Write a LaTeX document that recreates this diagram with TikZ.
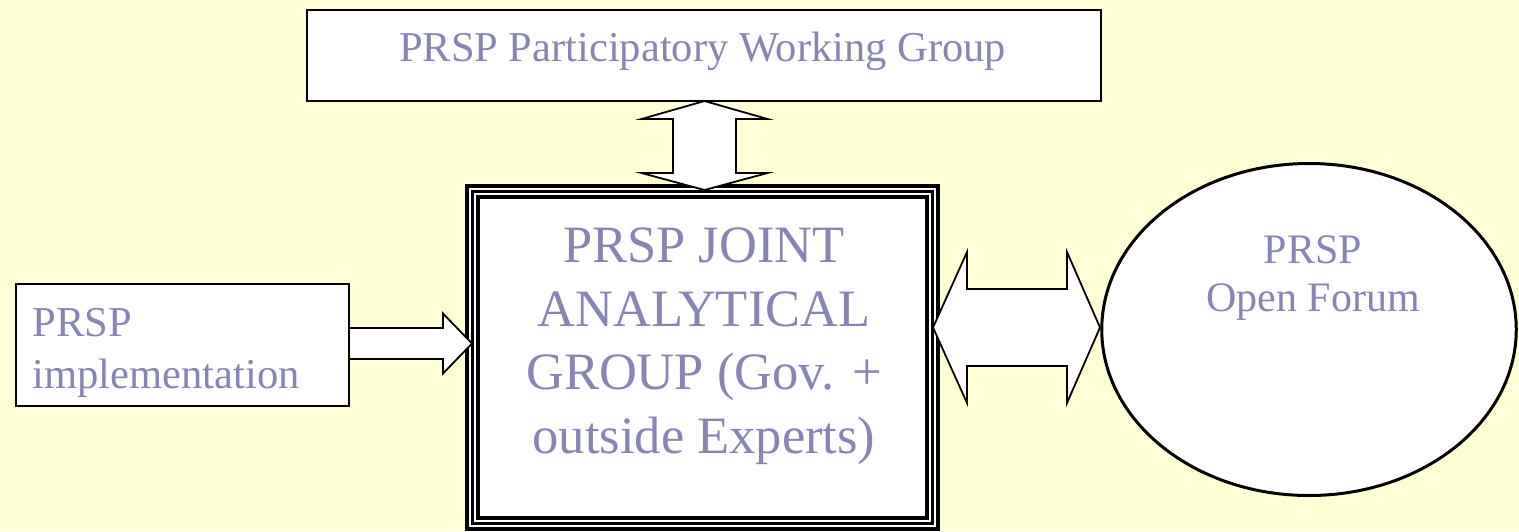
\documentclass[tikz,border=0pt]{standalone}
\usepackage{fontspec}
\setmainfont{Liberation Serif}
\usetikzlibrary{calc}
\definecolor{bgyellow}{RGB}{255,255,214}
\definecolor{txtblue}{RGB}{134,134,180}
\tikzset{
  boxnode/.style={draw=black, fill=white, line width=1pt, inner sep=0pt},
  smalltxt/.style={text=txtblue, inner sep=0pt, font=\fontsize{21.3}{26}\selectfont},
  bigtxt/.style={text=txtblue, inner sep=0pt, align=center, font=\fontsize{26.25}{31.75}\selectfont},
  blockarrow/.style={draw=black, fill=white, line width=0.9pt, line join=miter},
}
\begin{document}
\begin{tikzpicture}[x=0.5pt,y=-0.5pt]
  \useasboundingbox (0,0) rectangle (1519,531);
  \fill[bgyellow] (0,0) rectangle (1519,531);

  % top box
  \node[boxnode, minimum width=397pt, minimum height=45.5pt] (pwg) at (704,55.5) {};
  \node[smalltxt, font=\fontsize{21.25}{26}\selectfont, anchor=base] (pwgt) at (702.5,61) {PRSP Participatory Working Group};

  % left box
  \node[boxnode, line width=0.8pt, minimum width=166.5pt, minimum height=61pt] (impl) at (182.5,345) {};
  \node[smalltxt, align=left, anchor=west] (implt) at (32,353.4) {PRSP\\implementation};

  % central triple-line box
  \node[draw=black, fill=white, line width=2pt, minimum width=235.5pt, minimum height=171.25pt, inner sep=0pt] (jago) at (702.5,357.25) {};
  \node[draw=black, line width=1.5pt, minimum width=230pt, minimum height=166pt, inner sep=0pt] (jagm) at (702.5,357.5) {};
  \node[draw=black, line width=2pt, minimum width=224.5pt, minimum height=160.5pt, inner sep=0pt] (jag) at (702.5,357.5) {};
  \node[bigtxt] (jagt) at (704,346) {PRSP JOINT\\ANALYTICAL\\GROUP (Gov. +\\outside Experts)};

  % ellipse
  \draw[line width=1.5pt, fill=white] (1309,329.5) ellipse [x radius=207.25, y radius=166];
  \coordinate (forum) at (1309,329.5);
  \node[smalltxt, align=center, font=\fontsize{21}{24}\selectfont] (forumt) at (1313,277.7) {PRSP\\Open Forum};

  % arrow endpoints
  \coordinate (va) at (704.5,101);
  \coordinate (vb) at (704.5,190);
  \coordinate (la) at (349,343.5);
  \coordinate (lb) at (472,343.5);
  \coordinate (ra) at (933,327.5);
  \coordinate (rb) at (1100,327.5);

  % vertical double arrow
  \draw[blockarrow] (va) -- ($(va)+(63,18)$) -- ($(va)+(31.5,18)$) -- ($(vb)+(31.5,-17)$) -- ($(vb)+(63,-17)$)
    -- (vb) -- ($(vb)+(-63,-17)$) -- ($(vb)+(-31.5,-17)$) -- ($(va)+(-31.5,18)$) -- ($(va)+(-63,18)$) -- cycle;

  % left single arrow
  \draw[blockarrow] ($(la)+(0,-15.5)$) -- ($(lb)+(-29,-15.5)$) -- ($(lb)+(-29,-30)$) -- (lb)
    -- ($(lb)+(-29,30)$) -- ($(lb)+(-29,15.5)$) -- ($(la)+(0,15.5)$) -- cycle;

  % right double arrow
  \draw[blockarrow] (ra) -- ($(ra)+(34,-75.5)$) -- ($(ra)+(34,-38.5)$) -- ($(rb)+(-33,-38.5)$) -- ($(rb)+(-33,-75.5)$)
    -- (rb) -- ($(rb)+(-33,75.5)$) -- ($(rb)+(-33,38.5)$) -- ($(ra)+(34,38.5)$) -- ($(ra)+(34,75.5)$) -- cycle;
\end{tikzpicture}
\end{document}
